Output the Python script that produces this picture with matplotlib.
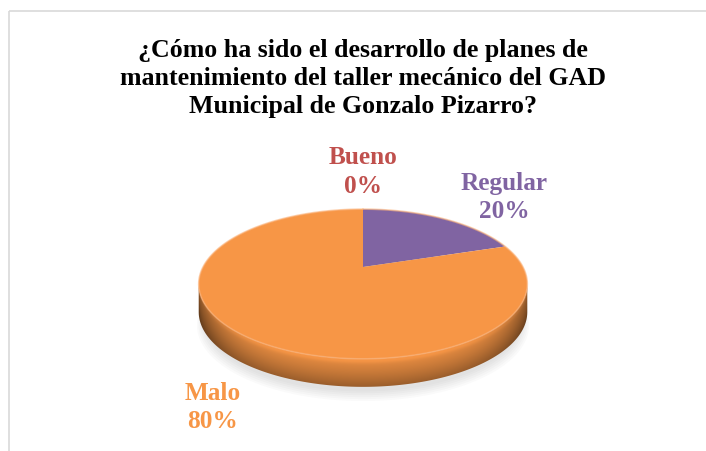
import numpy as np
import matplotlib
matplotlib.use("Agg")
import matplotlib.pyplot as plt
from matplotlib.patches import Polygon, Rectangle
from matplotlib.colors import to_rgb

# datos
title_lines = ["¿Cómo ha sido el desarrollo de planes de",
               "mantenimiento del taller mecánico del GAD",
               "Municipal de Gonzalo Pizarro?"]
categories = ["Bueno", "Regular", "Malo"]
percent = [0, 20, 80]
colors = ["#C0504D", "#8064A2", "#F79646"]
label_offsets = [(0, -38), (62, -22), (-35, 69)]

W, H = 706, 452
fig = plt.figure(figsize=(W / 100, H / 100), dpi=100)
ax = fig.add_axes([0, 0, 1, 1])
ax.set_xlim(0, W)
ax.set_ylim(H, 0)
ax.axis('off')

# geometria de la torta 3D (pixeles, con perspectiva)
cx, cy = 363, 268
A, B = 160, 71
k = 0.227
depth = 28


def proj(theta, r=1.0, dz=0.0):
    u = r * np.sin(theta)
    v = r * np.cos(theta)
    d = 1 + k * v
    return cx + A * u / d, cy - B * v / d + dz


# marco
ax.add_patch(Rectangle((8.5, 11.5), 900, 600, fill=False, ec="#D9D9D9", lw=1.2))

# titulo
for i, line in enumerate(title_lines):
    ax.text(363, 57 + i * 28, line, ha='center', va='baseline', fontsize=18.6,
            fontweight='bold', family='Liberation Serif', color='black')

t = np.linspace(0, 2 * np.pi, 1441)
xt, yt = proj(t)

# sombra
for j in range(6):
    sx, sy = proj(t, 0.97 + 0.008 * j, depth + 8 + j)
    ax.add_patch(Polygon(np.column_stack([sx, sy]), closed=True, fc="#808080",
                         ec='none', alpha=0.04, zorder=1))

# rangos de cada porcion (sentido horario desde arriba)
fr = np.array(percent, dtype=float) / sum(percent)
ends = np.cumsum(fr) * 2 * np.pi
starts = ends - fr * 2 * np.pi

# costado frontal
iR = np.argmax(xt)
iL = np.argmin(xt)
tR, tL = t[iR], t[iL]
for s0, s1, col in zip(starts, ends, colors):
    a0, a1 = max(s0, tR), min(s1, tL)
    if a1 <= a0:
        continue
    ta = np.linspace(a0, a1, 400)
    x1, y1 = proj(ta)
    x2, y2 = proj(ta[::-1], dz=depth)
    side = Polygon(np.column_stack([np.r_[x1, x2], np.r_[y1, y2]]), closed=True,
                   fc='none', ec='none', zorder=2)
    ax.add_patch(side)
    base = np.array(to_rgb(col))
    gx0, gx1 = x1.min() - 2, x1.max() + 2
    gy0, gy1 = y1.min() - 2, y2.max() + 2
    nx, ny = int(gx1 - gx0) + 1, int(gy1 - gy0) + 1
    px = np.linspace(gx0, gx1, nx)
    py = np.linspace(gy0, gy1, ny)
    order = np.argsort(x1)
    ytop = np.interp(px, x1[order], y1[order])
    frac = np.clip((py[:, None] - ytop[None, :]) / depth, 0, 1)
    hx = np.abs(px - cx) / A
    f = 0.93 - 0.3 * frac ** 1.3 + 0.07 * np.exp(-((frac - 0.08) / 0.1) ** 2)
    f = f * (1 - 0.3 * hx[None, :] ** 6)
    img = np.clip(base[None, None, :] * f[:, :, None], 0, 1)
    im = ax.imshow(img, extent=(gx0, gx1, gy1, gy0), origin='upper',
                   interpolation='bilinear', zorder=2, aspect='auto')
    im.set_clip_path(side)

# cara superior
for s0, s1, col in zip(starts, ends, colors):
    if s1 - s0 <= 0:
        continue
    ta = np.linspace(s0, s1, 600)
    xa, ya = proj(ta)
    pts = np.column_stack([np.r_[cx, xa], np.r_[cy, ya]])
    ax.add_patch(Polygon(pts, closed=True, fc=col, ec='none', zorder=3))

# brillo del borde
ax.plot(xt, yt, color="#FBB27A", lw=1.2, alpha=0.6, zorder=4)

ax.set_xlim(0, W)
ax.set_ylim(H, 0)

# etiquetas
for name, p, s0, s1, col, (ox, oy) in zip(categories, percent, starts, ends, colors,
                                          label_offsets):
    lx, ly = proj((s0 + s1) / 2)
    ax.text(lx + ox, ly + oy, f"{name}\n{p}%", ha='center', va='center',
            multialignment='center', fontsize=18.2, fontweight='bold',
            family='Liberation Serif', color=col, linespacing=1.3, zorder=5)

fig.savefig("out.png", dpi=100)
